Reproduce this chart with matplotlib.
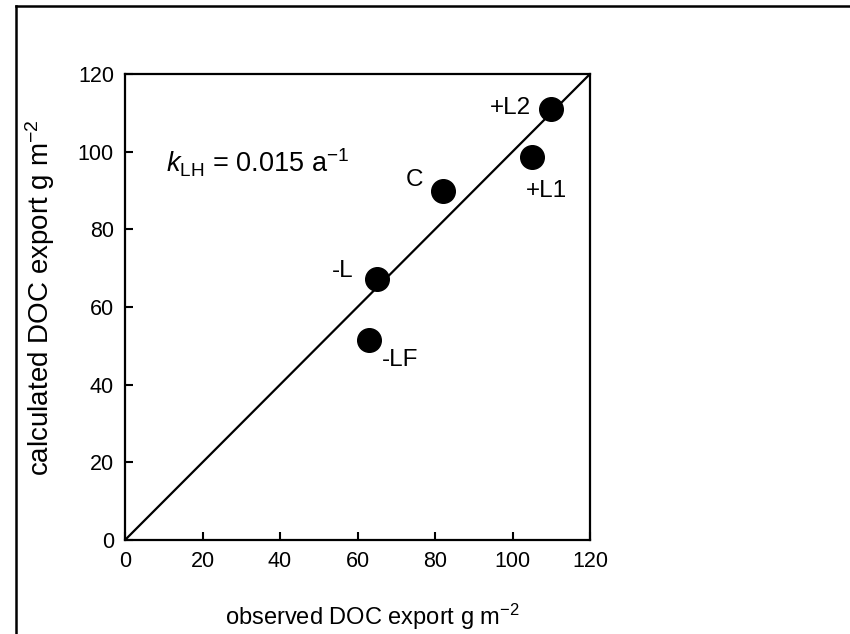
import matplotlib
matplotlib.use("Agg")
import matplotlib.pyplot as plt
from matplotlib.lines import Line2D

plt.rcParams['font.family'] = ['Liberation Sans', 'DejaVu Sans']
plt.rcParams['mathtext.fontset'] = 'custom'
plt.rcParams['mathtext.rm'] = 'Liberation Sans'
plt.rcParams['mathtext.it'] = 'Liberation Sans:italic'
plt.rcParams['mathtext.bf'] = 'Liberation Sans:bold'

labels = ['+L2', '+L1', 'C', '-L', '-LF']
observed = [110, 105, 82, 65, 63]
calculated = [111, 98.5, 89.8, 67.3, 51.5]
label_offsets = [(-41, 1), (15, -34), (-28, 11), (-34, 8), (31, -20)]
ticks = [0, 20, 40, 60, 80, 100, 120]

W, H = 850, 634
fig = plt.figure(figsize=(W / 100, H / 100), dpi=100)
ax = fig.add_axes([125 / W, 1 - 540 / H, 465 / W, 466 / H])

ax.plot([0, 120], [0, 120], color='black', lw=1.6, zorder=2)
ax.plot(observed, calculated, 'o', color='black', markersize=17, zorder=3)
for lab, xo, yc, (dx, dy) in zip(labels, observed, calculated, label_offsets):
    ax.annotate(lab, (xo, yc), xytext=(dx, dy), textcoords='offset pixels',
                ha='center', va='center', fontsize=17.5)

fig.text(166 / W, 1 - 163 / H, r'$\it{k}$$_{\rm LH}$ = 0.015 a$^{-1}$', fontsize=19.5,
         ha='left', va='center')

ax.set_xlim(0, 120)
ax.set_ylim(0, 120)
ax.set_xticks(ticks)
ax.set_yticks(ticks)
ax.tick_params(direction='in', length=6, width=1.5, labelsize=15.5, pad=8,
               top=False, right=False)
for s in ax.spines.values():
    s.set_linewidth(1.6)

fig.text(372 / W, 1 - 617 / H, r'observed DOC export g m$^{-2}$', fontsize=17,
         ha='center', va='center')
fig.text(40 / W, 1 - 298 / H, r'calculated DOC export g m$^{-2}$', fontsize=20,
         ha='center', va='center', rotation=90)

# outer frame (top and left visible)
fig.add_artist(Line2D([16 / W, 16 / W], [0, 1 - 6 / H], transform=fig.transFigure,
                      color='black', lw=1.8))
fig.add_artist(Line2D([16 / W, 1], [1 - 6 / H, 1 - 6 / H], transform=fig.transFigure,
                      color='black', lw=1.8))

fig.savefig('out.png', dpi=100)
